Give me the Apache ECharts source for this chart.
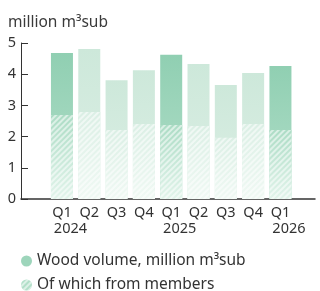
<html>
<head>
	<meta charset="utf-8">
	<title>Wood volume</title>
	<script src="https://cdn.jsdelivr.net/npm/echarts@6/dist/echarts.min.js"></script>
	<style type="text/css">
		html, body { margin: 0; padding: 0; background: #fff; }
	</style>
</head>
	<body>
		<div id="eCharts-container" style="width:320px;height:291px"></div>
	<script type="text/javascript">
		// data
		var categories = ['Q1\n2024', 'Q2', 'Q3', 'Q4', 'Q1\n2025', 'Q2', 'Q3', 'Q4', 'Q1\n2026'];
		var woodVolume = [4.68, 4.81, 3.81, 4.13, 4.62, 4.33, 3.65, 4.04, 4.26];
		var fromMembers = [2.69, 2.79, 2.21, 2.40, 2.37, 2.34, 1.96, 2.40, 2.21];
		var yTicks = [0, 1, 2, 3, 4, 5];
		var seriesNames = ['Wood volume, million m³sub', 'Of which from members'];

		var font = 'Noto Sans';
		var grad = function (a, b) {
			return new echarts.graphic.LinearGradient(0, 0, 0, 1, [{offset: 0, color: a}, {offset: 1, color: b}]);
		};
		var stripes = {
			symbol: 'rect', symbolSize: 1,
			dashArrayX: [1, 0], dashArrayY: [1.5, 2],
			rotation: -Math.PI / 4,
			color: 'rgba(255,255,255,0.55)'
		};
		// Q1 bars are the darker ones
		var isQ1 = function (i) { return categories[i].indexOf('Q1') === 0; };

		var totalData = [], memberData = [];
		for (var x = 0; x < categories.length; x++) {
			totalData.push({
				value: woodVolume[x],
				itemStyle: {color: isQ1(x) ? grad('#90cfb2', '#b3dfca') : grad('#cde8da', '#dcefe5')}
			});
			memberData.push({
				value: fromMembers[x],
				itemStyle: {color: isQ1(x) ? grad('#acdcc5', '#e2f4eb') : grad('#dbefe5', '#f0f9f4'), decal: stripes}
			});
		}

		var legendText = {fontFamily: font, fontSize: 15.5, color: '#333'};
		var myChart = echarts.init(document.getElementById('eCharts-container'));
		var option = {
			animation: false,
			textStyle: {fontFamily: font},
			title: {
				text: 'million m³sub', left: 3, top: 10,
				textStyle: {fontFamily: font, fontSize: 15.5, fontWeight: 'normal', color: '#3a3a3a'}
			},
			legend: [
				{
					left: 16, top: 248, itemWidth: 11, itemHeight: 11, textStyle: legendText,
					data: [{name: seriesNames[0], icon: 'circle', itemStyle: {color: '#9dd5bb'}}]
				},
				{
					left: 16, top: 272, itemWidth: 11, itemHeight: 11, textStyle: legendText,
					data: [{name: seriesNames[1], icon: 'circle', itemStyle: {color: '#b2dfc9', decal: stripes}}]
				}
			],
			grid: [
				// axes frame
				{left: 21, right: 5, top: 43, bottom: 92},
				// bars
				{left: 48.3, right: 25.9, top: 43, bottom: 92}
			],
			xAxis: [
				{
					gridIndex: 0, type: 'value', min: 0, max: 1,
					axisLine: {show: true, lineStyle: {color: '#333', width: 1.5}},
					axisTick: {show: false}, axisLabel: {show: false}, splitLine: {show: false}
				},
				{
					gridIndex: 1, type: 'category', data: categories,
					axisLine: {show: false}, axisTick: {show: false},
					axisLabel: {
						interval: 0, margin: 6, color: '#333',
						formatter: function (v) {
							var p = v.split('\n');
							return p.length > 1 ? '{q|' + p[0] + '}\n{y|' + p[1] + '}' : '{q|' + p[0] + '}';
						},
						rich: {
							q: {fontFamily: font, fontSize: 14.5, color: '#333', lineHeight: 16},
							y: {fontFamily: font, fontSize: 14.5, color: '#333', lineHeight: 16, padding: [0, 0, 0, 17]}
						}
					}
				}
			],
			yAxis: [
				{
					gridIndex: 0, type: 'value', min: yTicks[0], max: yTicks[yTicks.length - 1], interval: 1,
					axisLine: {show: true, lineStyle: {color: '#333'}},
					axisTick: {show: true, inside: true, length: 7, lineStyle: {color: '#333'}},
					axisLabel: {margin: 5, fontFamily: font, fontSize: 14.5, color: '#333'},
					splitLine: {show: false}
				},
				{
					gridIndex: 1, type: 'value', min: yTicks[0], max: yTicks[yTicks.length - 1],
					show: false, splitLine: {show: false}
				}
			],
			series: [
				{
					name: seriesNames[0], type: 'bar',
					xAxisIndex: 1, yAxisIndex: 1, barWidth: 22, barGap: '-100%',
					data: totalData
				},
				{
					name: seriesNames[1], type: 'bar',
					xAxisIndex: 1, yAxisIndex: 1, barWidth: 22, barGap: '-100%',
					data: memberData
				}
			]
		};
		myChart.setOption(option);
	</script>
	</body>
</html>
